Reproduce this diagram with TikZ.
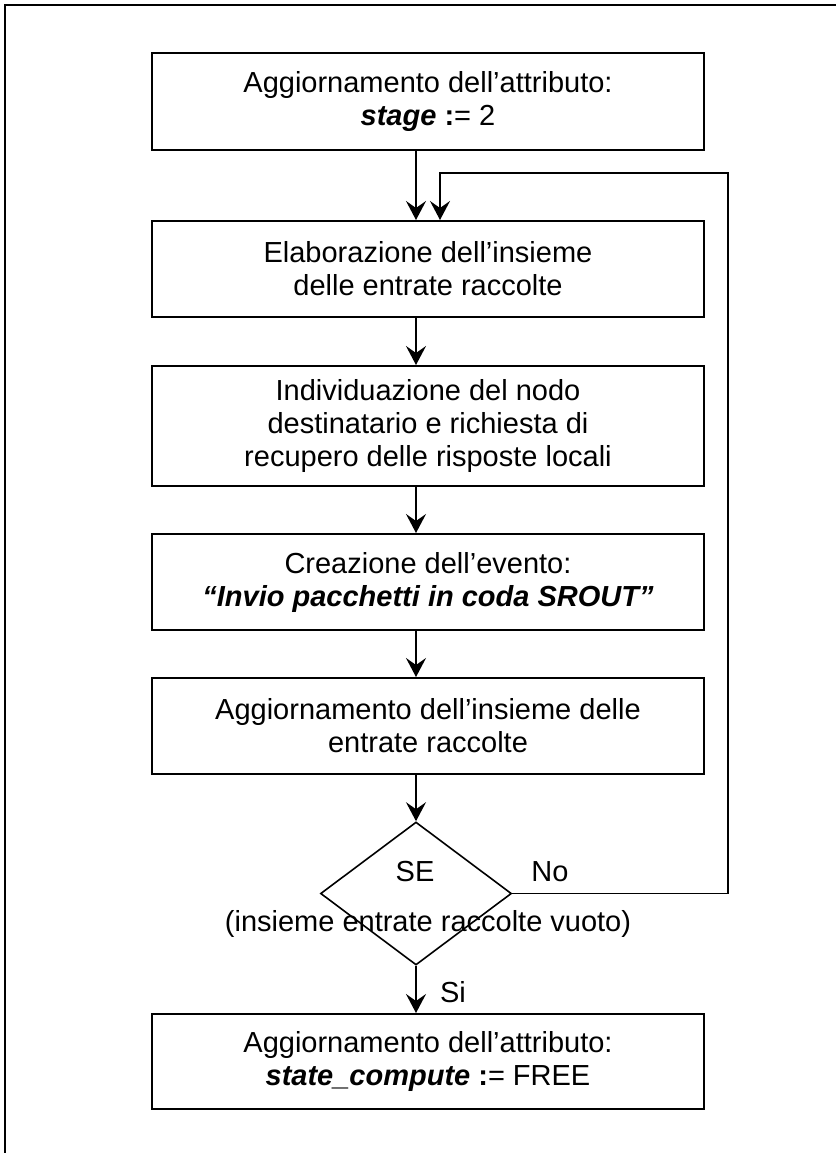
\documentclass[tikz,border=0pt]{standalone}
\usepackage{fontspec}
\setmainfont{Liberation Sans}
\usetikzlibrary{shapes.geometric,arrows.meta}
\begin{document}
\begin{tikzpicture}[x=1pt,y=-1pt,
  every node/.style={font=\fontsize{29}{33}\selectfont},
  stepbox/.style={draw,line width=2pt,minimum width=552pt,inner sep=0pt,align=center},
  decision/.style={draw,diamond,line width=1.6pt,minimum width=191pt,minimum height=143pt,inner sep=0pt},
  arr/.style={line width=1.6pt,-{Stealth[length=19pt,width=20pt,inset=7pt]}},
  frame/.style={line width=2pt},
  lbl/.style={inner sep=0pt}]
\useasboundingbox (0,0) rectangle (836,1153);

% outer frame (left and top edges)
\draw[frame] (5,1153) -- (5,5) -- (836,5);

% process steps
\node[stepbox,minimum height=97pt] (b1) at (428,101.5)
  {Aggiornamento dell’attributo:\\ \textbf{\textit{stage} :}= 2};
\node[stepbox,minimum height=96pt] (b2) at (428,269)
  {Elaborazione dell’insieme\\ delle entrate raccolte};
\node[stepbox,minimum height=120pt] (b3) at (428,426)
  {Individuazione del nodo\\ destinatario e richiesta di\\ recupero delle risposte locali};
\node[stepbox,minimum height=96pt] (b4) at (428,582)
  {Creazione dell’evento:\\ \textbf{\textit{“Invio pacchetti in coda SROUT”}}};
\node[stepbox,minimum height=96pt] (b5) at (428,726)
  {Aggiornamento dell’insieme delle\\ entrate raccolte};

% decision
\node[decision] (d) at (416,893.5) {};
\node[lbl] (se) at (415,872) {SE};
\node[lbl] (cond) at (428,924) {(insieme entrate raccolte vuoto)};
\node[lbl] (no) at (550,872) {No};

\node[stepbox,minimum height=95pt] (b6) at (428,1061.5)
  {Aggiornamento dell’attributo:\\ \textbf{\textit{state\_compute} :}= FREE};
\node[lbl] (si) at (453,992) {Si};

% connectors
\draw[arr] (b1.south -| d) -- (b2.north -| d);
\draw[arr] (b2.south -| d) -- (b3.north -| d);
\draw[arr] (b3.south -| d) -- (b4.north -| d);
\draw[arr] (b4.south -| d) -- (b5.north -| d);
\draw[arr] (b5.south -| d) -- (d.north);
\draw[arr] (d.south) -- (b6.north -| d);

% loop back on "No"
\coordinate (lr) at (728,173);
\coordinate (li) at (440,173);
\draw[arr] (d.east) -| (lr) -- (li) -- (li |- b2.north);
\end{tikzpicture}
\end{document}
